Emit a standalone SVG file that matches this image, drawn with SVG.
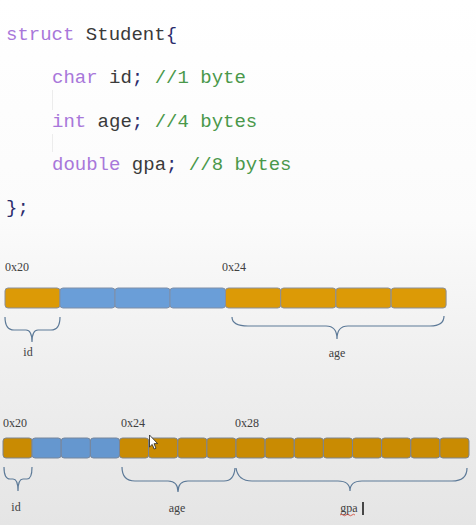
<svg xmlns="http://www.w3.org/2000/svg" width="476" height="525" viewBox="0 0 476 525">
<defs>
<linearGradient id="bg" x1="0" y1="0" x2="0" y2="1">
<stop offset="0" stop-color="#ffffff"/>
<stop offset="0.42" stop-color="#fbfbfb"/>
<stop offset="0.7" stop-color="#efefef"/>
<stop offset="1" stop-color="#e5e5e5"/>
</linearGradient>
<style>
.code{font-family:"Liberation Mono","DejaVu Sans Mono",monospace;font-size:19px}
.kw{fill:#a877da}
.id{fill:#3a3a3a}
.pn{fill:#2c2c6c}
.cm{fill:#4a984a}
.lbl{font-family:"Liberation Serif",serif;font-size:12px;fill:#404040}
.o1{fill:#dc9a06;stroke:#8a8f9a;stroke-width:1}
.b1{fill:#6a9ed8;stroke:#7f8fa8;stroke-width:1}
.o2{fill:#c98b02;stroke:#7d8490;stroke-width:1}
.b2{fill:#6597cf;stroke:#77869c;stroke-width:1}
.br{fill:none;stroke:#5d7a98;stroke-width:1.2}
</style>
</defs>
<rect width="476" height="525" fill="url(#bg)"/>
<g id="code">
<line x1="52.5" y1="90" x2="52.5" y2="110" stroke="#ececec"/>
<line x1="52.5" y1="134" x2="52.5" y2="152" stroke="#ececec"/>
<text class="code" x="6" y="40"><tspan class="kw">struct</tspan><tspan class="id"> Student</tspan><tspan class="pn">{</tspan></text>
<text class="code" x="52" y="83"><tspan class="kw">char</tspan><tspan class="id"> id</tspan><tspan class="pn">;</tspan><tspan class="cm"> //1 byte</tspan></text>
<text class="code" x="52" y="127"><tspan class="kw">int</tspan><tspan class="id"> age</tspan><tspan class="pn">;</tspan><tspan class="cm"> //4 bytes</tspan></text>
<text class="code" x="52" y="170"><tspan class="kw">double</tspan><tspan class="id"> gpa</tspan><tspan class="pn">;</tspan><tspan class="cm"> //8 bytes</tspan></text>
<text class="code pn" x="6" y="213">};</text>
</g>
<g id="layout1">
<text class="lbl" x="5" y="271">0x20</text>
<text class="lbl" x="222" y="271">0x24</text>
<rect class="o1" x="5" y="288" width="55" height="20" rx="3"/>
<rect class="b1" x="60" y="288" width="55" height="20" rx="3"/>
<rect class="b1" x="115" y="288" width="55" height="20" rx="3"/>
<rect class="b1" x="170" y="288" width="55.5" height="20" rx="3"/>
<rect class="o1" x="225.5" y="288" width="55.2" height="20" rx="3"/>
<rect class="o1" x="280.7" y="288" width="55.2" height="20" rx="3"/>
<rect class="o1" x="335.9" y="288" width="55.2" height="20" rx="3"/>
<rect class="o1" x="391.1" y="288" width="55" height="20" rx="3"/>
</g>
<g id="layout2">
<text class="lbl" x="3" y="427">0x20</text>
<text class="lbl" x="121" y="427">0x24</text>
<text class="lbl" x="235" y="427">0x28</text>
<rect class="o2" x="3" y="438" width="29.1" height="20" rx="3"/>
<rect class="b2" x="32.1" y="438" width="29.1" height="20" rx="3"/>
<rect class="b2" x="61.2" y="438" width="29.1" height="20" rx="3"/>
<rect class="b2" x="90.4" y="438" width="29.1" height="20" rx="3"/>
<rect class="o2" x="119.5" y="438" width="29.1" height="20" rx="3"/>
<rect class="o2" x="148.6" y="438" width="29.1" height="20" rx="3"/>
<rect class="o2" x="177.8" y="438" width="29.1" height="20" rx="3"/>
<rect class="o2" x="206.9" y="438" width="29.1" height="20" rx="3"/>
<rect class="o2" x="236" y="438" width="29.1" height="20" rx="3"/>
<rect class="o2" x="265.1" y="438" width="29.1" height="20" rx="3"/>
<rect class="o2" x="294.3" y="438" width="29.1" height="20" rx="3"/>
<rect class="o2" x="323.4" y="438" width="29.1" height="20" rx="3"/>
<rect class="o2" x="352.5" y="438" width="29.1" height="20" rx="3"/>
<rect class="o2" x="381.6" y="438" width="29.1" height="20" rx="3"/>
<rect class="o2" x="410.8" y="438" width="29.1" height="20" rx="3"/>
<rect class="o2" x="439.9" y="438" width="29.1" height="20" rx="3"/>
<path d="M149.5,435 L149.5,447 L152.2,444.4 L154.2,449 L156,448.2 L154,443.7 L157.6,443.6 Z" fill="#ffffff" stroke="#222" stroke-width="0.8"/>
</g>
<g id="braces">
<path class="br" d="M5,317 Q5,330 14,330 L26,330 Q32,330 32,342 Q32,330 38,330 L51,330 Q60,330 60,317"/>
<path class="br" d="M232,317 Q232,326 248,326 L326,326 Q337,326 337,339 Q337,326 348,326 L430,326 Q444,326 444,316"/>
<path class="br" d="M4,467 Q4,479 10,479 L13,479 Q18,479 18,491 Q18,479 23,479 L27,479 Q32,479 32,467"/>
<path class="br" d="M122,467 Q122,481 135,481 L168,481 Q178,481 178,492 Q178,481 188,481 L224,481 Q234,481 235,468"/>
<path class="br" d="M236,468 Q238,481 252,481 L338,481 Q350,481 350,491 Q350,481 362,481 L452,481 Q467,481 467,468"/>
</g>
<g id="labels">
<text class="lbl" x="28" y="356" text-anchor="middle">id</text>
<text class="lbl" x="337" y="357" text-anchor="middle">age</text>
<text class="lbl" x="16" y="511" text-anchor="middle">id</text>
<text class="lbl" x="177" y="512" text-anchor="middle">age</text>
<text class="lbl" x="349" y="512" text-anchor="middle">gpa</text>
<path d="M340,515 q1.5,-1.5 3,0 t3,0 t3,0 t3,0 t3,0" fill="none" stroke="#d04030" stroke-width="0.8"/>
<line x1="363" y1="502" x2="363" y2="515" stroke="#111" stroke-width="1.5"/>
</g>
</svg>
